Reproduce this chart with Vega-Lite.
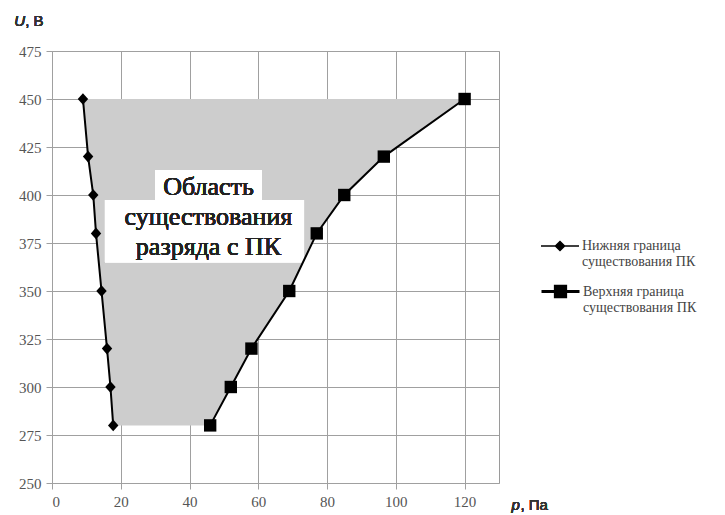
{
  "$schema": "https://vega.github.io/schema/vega-lite/v6.json",
  "autosize": {"type": "none"},
  "padding": {"left": 52, "top": 51, "right": 226, "bottom": 32},
  "width": 447,
  "height": 432,
  "background": "white",
  "config": {
    "view": {"stroke": "#9a9a9a", "strokeWidth": 1},
    "axis": {
      "labelFont": "Liberation Serif",
      "labelFontSize": 15,
      "labelColor": "#555555",
      "gridColor": "#a0a0a0",
      "gridWidth": 1,
      "tickColor": "#a0a0a0",
      "domain": false
    },
    "legend": {
      "orient": "none",
      "title": null,
      "symbolSize": 1444,
      "symbolFillColor": "black",
      "symbolStrokeColor": "black",
      "labelFont": "Liberation Serif",
      "labelFontSize": 14,
      "labelColor": "#444444",
      "labelLimit": 300,
      "labelOffset": 2,
      "labelBaseline": "middle"
    }
  },
  "resolve": {"scale": {"opacity": "independent"}, "legend": {"opacity": "independent"}},
  "data": {
    "values": [
      {"U": 450, "low": 9, "high": 120},
      {"U": 420, "low": 10.5, "high": 96.5},
      {"U": 400, "low": 12, "high": 85},
      {"U": 380, "low": 12.8, "high": 77},
      {"U": 350, "low": 14.4, "high": 69},
      {"U": 320, "low": 16, "high": 58},
      {"U": 300, "low": 17, "high": 52},
      {"U": 280, "low": 17.8, "high": 46}
    ]
  },
  "layer": [
    {
      "mark": {"type": "area", "orient": "horizontal", "color": "#cdcdcd", "opacity": 1},
      "encoding": {
        "y": {
          "field": "U", "type": "quantitative",
          "scale": {"domain": [250, 475], "nice": false, "zero": false},
          "axis": {"values": [250, 275, 300, 325, 350, 375, 400, 425, 450, 475], "title": null, "tickSize": 6, "labelPadding": 5}
        },
        "x": {
          "field": "low", "type": "quantitative",
          "scale": {"domain": [0, 130], "nice": false, "zero": false},
          "axis": {
            "values": [0, 10, 20, 30, 40, 50, 60, 70, 80, 90, 100, 110, 120, 130],
            "title": null,
            "labelExpr": "datum.value % 20 == 0 && datum.value <= 120 ? datum.label : ''",
            "tickOpacity": {"expr": "datum.value % 20 == 0 && datum.value <= 120 ? 1 : 0"},
            "tickSize": 6,
            "labelPadding": 5
          }
        },
        "x2": {"field": "high"}
      }
    },
    {
      "mark": {"type": "rect", "color": "white"},
      "encoding": {
        "x": {"datum": 30}, "x2": {"datum": 61},
        "y": {"datum": 413}, "y2": {"datum": 397.4}
      }
    },
    {
      "mark": {"type": "rect", "color": "white"},
      "encoding": {
        "x": {"datum": 15.4}, "x2": {"datum": 73.3},
        "y": {"datum": 397.4}, "y2": {"datum": 365}
      }
    },
    {
      "mark": {"type": "text", "text": "Область\nсуществования\nразряда с ПК", "lineBreak": "\n", "font": "Liberation Serif", "fontSize": 26, "lineHeight": 30, "color": "#222222", "align": "center", "baseline": "middle"},
      "encoding": {"x": {"datum": 45.5}, "y": {"datum": 404.4}}
    },
    {
      "transform": [{"fold": ["low"], "as": ["series", "p"]}],
      "mark": {"type": "line", "color": "black", "strokeWidth": 2},
      "encoding": {
        "x": {"field": "p", "type": "quantitative"},
        "y": {"field": "U", "type": "quantitative"},
        "order": {"field": "U", "type": "quantitative"},
        "opacity": {
          "field": "series", "type": "nominal",
          "scale": {"domain": ["low"], "range": [1]},
          "legend": {
            "legendX": 488,
            "legendY": 175,
            "symbolType": "M-1,0L1,0M-0.24,0L0,-0.24L0.24,0L0,0.24Z",
            "symbolStrokeWidth": 1.5,
            "labelExpr": "['Нижняя граница', 'существования ПК']"
          }
        }
      }
    },
    {
      "transform": [{"fold": ["high"], "as": ["series", "p"]}],
      "mark": {"type": "line", "color": "black", "strokeWidth": 2},
      "encoding": {
        "x": {"field": "p", "type": "quantitative"},
        "y": {"field": "U", "type": "quantitative"},
        "order": {"field": "U", "type": "quantitative"},
        "opacity": {
          "field": "series", "type": "nominal",
          "scale": {"domain": ["high"], "range": [1]},
          "legend": {
            "legendX": 488,
            "legendY": 220,
            "symbolType": "M-1,0L1,0M-0.27,-0.27L0.27,-0.27L0.27,0.27L-0.27,0.27Z",
            "symbolStrokeWidth": 3,
            "labelExpr": "['Верхняя граница', 'существования ПК']"
          }
        }
      }
    },
    {
      "transform": [{"fold": ["low"], "as": ["series", "p"]}],
      "mark": {"type": "point", "filled": true, "color": "black", "opacity": 1, "size": 170, "shape": "M0,-0.9L0.8,0L0,0.9L-0.8,0Z"},
      "encoding": {
        "x": {"field": "p", "type": "quantitative"},
        "y": {"field": "U", "type": "quantitative"}
      }
    },
    {
      "transform": [{"fold": ["high"], "as": ["series", "p"]}],
      "mark": {"type": "point", "filled": true, "color": "black", "opacity": 1, "size": 170, "shape": "M-0.95,-0.95L0.95,-0.95L0.95,0.95L-0.95,0.95Z"},
      "encoding": {
        "x": {"field": "p", "type": "quantitative"},
        "y": {"field": "U", "type": "quantitative"}
      }
    },
    {
      "mark": {"type": "text", "text": "U", "font": "Liberation Sans", "fontStyle": "italic", "fontSize": 15, "color": "#333333", "align": "left", "baseline": "middle"},
      "encoding": {"x": {"datum": -11}, "y": {"datum": 490.6}}
    },
    {
      "mark": {"type": "text", "text": ", В", "font": "Liberation Sans", "fontSize": 15, "color": "#333333", "align": "left", "baseline": "middle", "dx": 11},
      "encoding": {"x": {"datum": -11}, "y": {"datum": 490.6}}
    },
    {
      "mark": {"type": "text", "text": "p", "font": "Liberation Sans", "fontStyle": "italic", "fontSize": 15, "color": "#333333", "align": "left", "baseline": "middle"},
      "encoding": {"x": {"datum": 133.6}, "y": {"datum": 238.5}}
    },
    {
      "mark": {"type": "text", "text": ", Па", "font": "Liberation Sans", "fontSize": 15, "color": "#333333", "align": "left", "baseline": "middle", "dx": 9},
      "encoding": {"x": {"datum": 133.6}, "y": {"datum": 238.5}}
    }
  ]
}
